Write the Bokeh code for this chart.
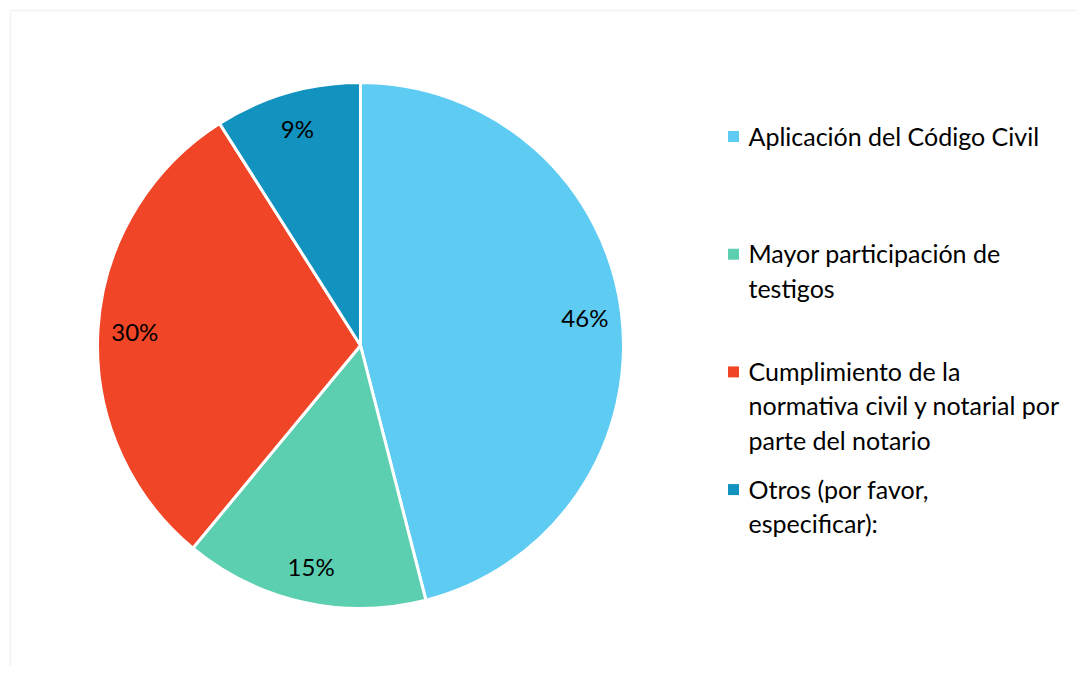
import math
import numpy as np
from bokeh.plotting import figure
from bokeh.models import Range1d, BoxAnnotation, ColumnDataSource
from bokeh.core.properties import value
from bokeh.embed import file_html
from bokeh.resources import INLINE

# ---- data ----
categories = [
    "Aplicación del Código Civil",
    "Mayor participación de testigos",
    "Cumplimiento de la normativa civil y notarial por parte del notario",
    "Otros (por favor, especificar):",
]
legend_labels = [
    "Aplicación del Código Civil",
    "Mayor participación de\ntestigos",
    "Cumplimiento de la\nnormativa civil y notarial por\nparte del notario",
    "Otros (por favor,\nespecificar):",
]
values = [46, 15, 30, 9]
colors = ["#5ECBF3", "#5DCFB1", "#F04526", "#1292BF"]

# ---- layout constants ----
W, H = 1077, 666
CX, CY, R = 360, H - 345, 263
FONT = "Lato"

total = sum(values)
cum = np.concatenate([[0], np.cumsum(values)])
start = math.pi / 2 - 2 * math.pi * cum[:-1] / total
end = math.pi / 2 - 2 * math.pi * cum[1:] / total
mid = (start + end) / 2
lab_r = 0.86 * R

src = ColumnDataSource(dict(
    cat=categories, val=values, color=colors,
    start=start, end=end,
    lx=CX + lab_r * np.cos(mid), ly=CY + lab_r * np.sin(mid),
    lab=[f"{v}%" for v in values],
))

p = figure(width=W, height=H, x_range=Range1d(0, W), y_range=Range1d(0, H),
           output_backend="svg", toolbar_location=None,
           x_axis_type=None, y_axis_type=None, min_border=0)
p.grid.visible = False
p.outline_line_color = None
p.background_fill_color = "white"

p.wedge(x=CX, y=CY, radius=R, start_angle="start", end_angle="end",
        direction="clock", fill_color="color", line_color="white",
        line_width=3, source=src)

p.text(x="lx", y="ly", text="lab", source=src, text_align="center",
       text_baseline="middle", text_font=value(FONT), text_font_size="24px",
       text_color="#000000")

# legend
LX, LY0, LDY = 733, H - 136, 117.7
leg = ColumnDataSource(dict(
    x=[LX] * len(categories),
    y=[LY0 - i * LDY for i in range(len(categories))],
    tx=[LX + 15] * len(categories),
    ty=[LY0 - i * LDY + 16 for i in range(len(categories))],
    color=colors, label=legend_labels,
))
p.scatter(x="x", y="y", marker="square", size=11, fill_color="color",
          line_color=None, source=leg)
p.text(x="tx", y="ty", text="label", source=leg, text_align="left",
       text_baseline="top", text_font=value(FONT), text_font_size="25px",
       text_line_height=1.15, text_color="#000000")

# chart area border (top and left edges visible)
p.add_layout(BoxAnnotation(left=10, right=5000, top=H - 10, bottom=-5000,
                           fill_alpha=0, line_color="#d9d9d9", line_width=2))

open("out.html", "w").write(file_html(p, INLINE))
